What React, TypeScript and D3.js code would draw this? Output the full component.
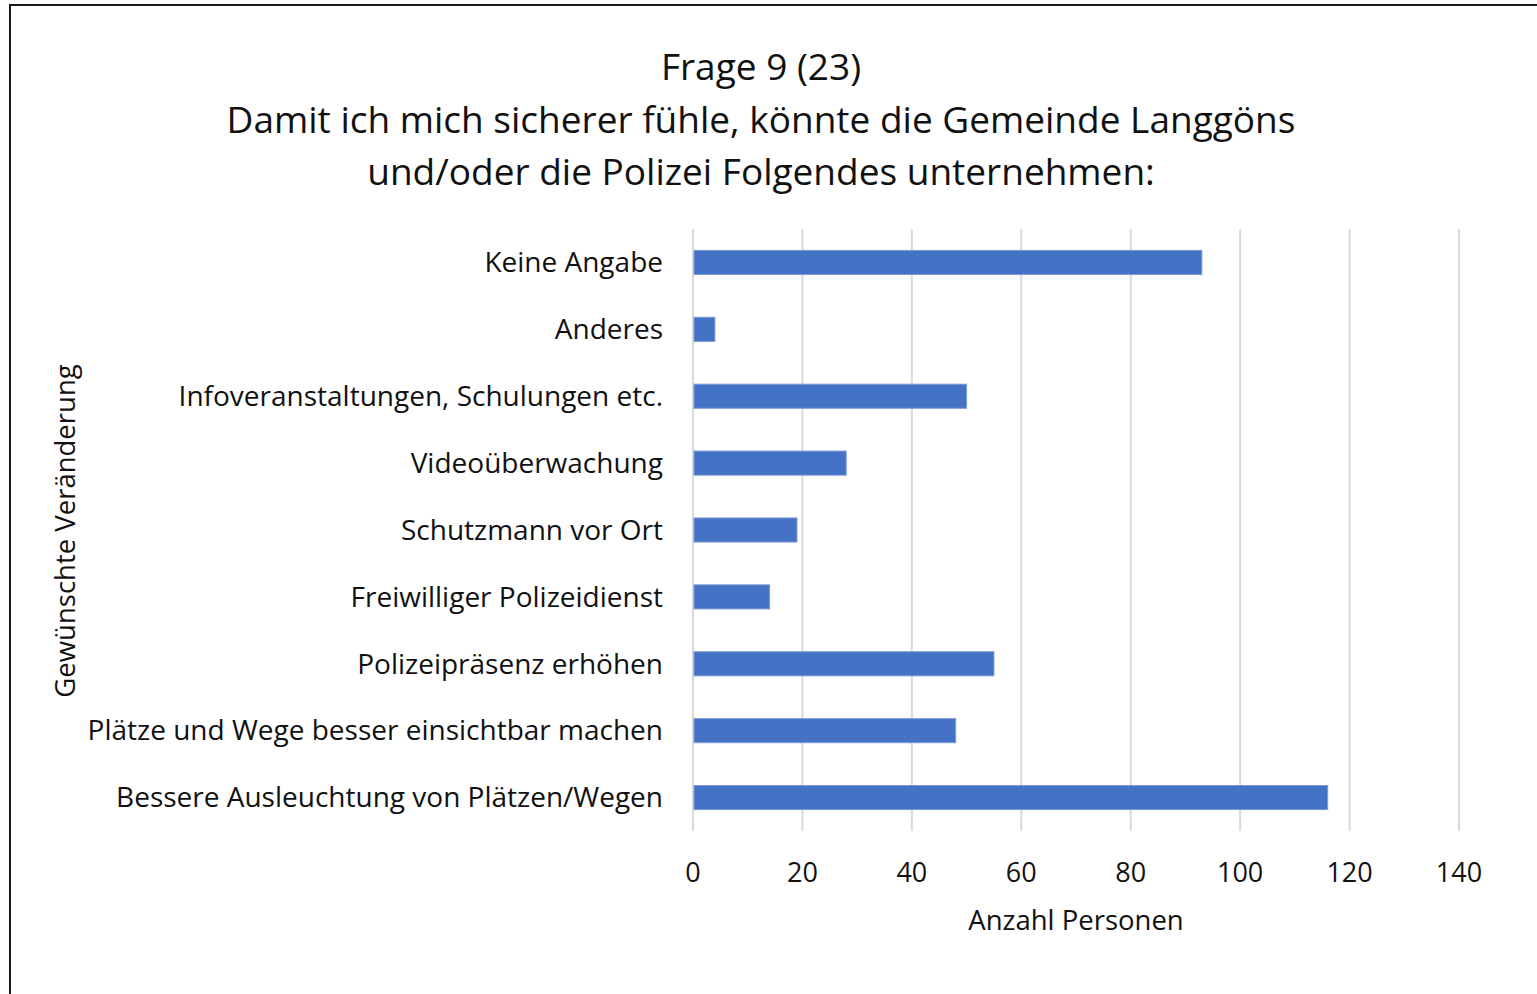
import React from "react";
import * as d3 from "d3";

const titleLines = [
  "Frage 9 (23)",
  "Damit ich mich sicherer fühle, könnte die Gemeinde Langgöns",
  "und/oder die Polizei Folgendes unternehmen:",
];
const categories = [
  "Keine Angabe",
  "Anderes",
  "Infoveranstaltungen, Schulungen etc.",
  "Videoüberwachung",
  "Schutzmann vor Ort",
  "Freiwilliger Polizeidienst",
  "Polizeipräsenz erhöhen",
  "Plätze und Wege besser einsichtbar machen",
  "Bessere Ausleuchtung von Plätzen/Wegen",
];
const values = [93, 4, 50, 28, 19, 14, 55, 48, 116];
const xTicks = [0, 20, 40, 60, 80, 100, 120, 140];
const xAxisTitle = "Anzahl Personen";
const yAxisTitle = "Gewünschte Veränderung";

const W = 1537;
const H = 994;
const FONT = "'Open Sans', sans-serif";

export default function App() {
  const x = d3.scaleLinear().domain([0, 140]).range([693, 1459]);
  const y = d3
    .scaleBand<string>()
    .domain(categories)
    .range([229, 831])
    .paddingInner(0.64)
    .paddingOuter(0.32);

  return (
    <div style={{ position: "absolute", left: 0, top: 0 }}>
      <svg width={W} height={H} style={{ display: "block", background: "#fff" }}>
        <rect x={10} y={5} width={W + 20} height={H + 20} fill="#fff" stroke="#1a1a1a" strokeWidth={2} />
        {titleLines.map((t, i) => (
          <text
            key={i}
            x={761}
            y={67 + i * 52.5}
            dy="0.36em"
            textAnchor="middle"
            fontFamily={FONT}
            fontSize={37}
            fill="#111"
          >
            {t}
          </text>
        ))}
        {xTicks.map((t) => (
          <line key={"g" + t} x1={x(t)} x2={x(t)} y1={229} y2={831} stroke="#d9d9d9" strokeWidth={2} />
        ))}
        {categories.map((c, i) => (
          <rect
            key={c}
            x={x(0) + 1}
            y={y(c)}
            width={x(values[i]) - x(0) - 1}
            height={y.bandwidth()}
            fill="#4472C4"
            stroke="#7b9ad6"
            strokeWidth={1}
          />
        ))}
        {categories.map((c) => (
          <text
            key={"l" + c}
            x={663}
            y={(y(c) ?? 0) + y.bandwidth() / 2}
            dy="0.35em"
            textAnchor="end"
            fontFamily={FONT}
            fontSize={28}
            fill="#111"
          >
            {c}
          </text>
        ))}
        {xTicks.map((t) => (
          <text
            key={"t" + t}
            x={x(t)}
            y={873}
            dy="0.35em"
            textAnchor="middle"
            fontFamily={FONT}
            fontSize={27}
            fill="#111"
          >
            {t}
          </text>
        ))}
        <text x={1076} y={920} dy="0.35em" textAnchor="middle" fontFamily={FONT} fontSize={27.5} fill="#111">
          {xAxisTitle}
        </text>
        <text
          transform={`translate(65,531) rotate(-90)`}
          dy="0.35em"
          textAnchor="middle"
          fontFamily={FONT}
          fontSize={27.5}
          fill="#111"
        >
          {yAxisTitle}
        </text>
      </svg>
    </div>
  );
}
